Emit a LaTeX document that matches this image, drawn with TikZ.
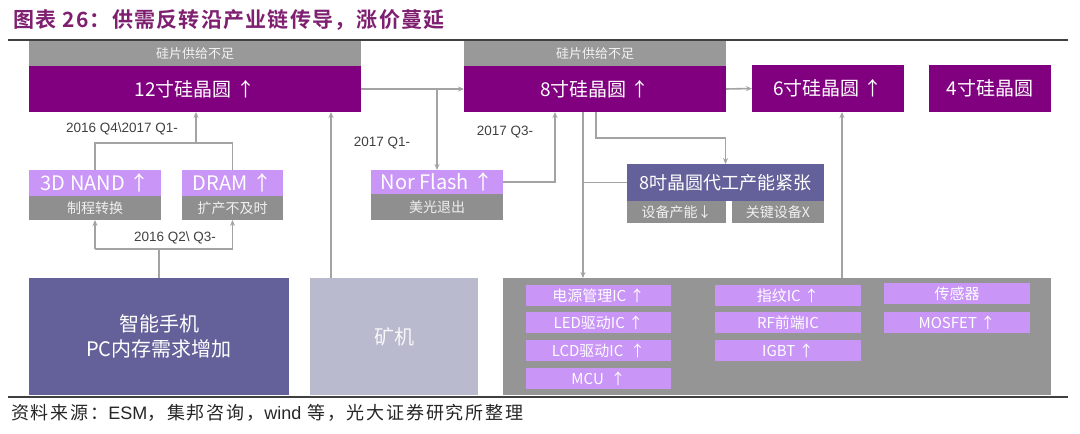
\documentclass[tikz,border=0pt]{standalone}
\usepackage{fontspec}
\setmainfont{Noto Sans CJK SC}
\newfontfamily\arialf{Liberation Sans}
\newfontfamily\titlef{Noto Sans CJK SC}[BoldFont={Noto Sans CJK SC Bold}, LetterSpace=6]
\newfontfamily\srcf{Noto Sans CJK SC}[LetterSpace=10]
\newfontfamily\srclat{Liberation Sans}
\usetikzlibrary{arrows.meta}
\definecolor{wpurple}{HTML}{800080}
\definecolor{hdrgray}{HTML}{999999}
\definecolor{lpurple}{HTML}{C995F7}
\definecolor{subgray}{HTML}{8F8F8F}
\definecolor{biggray}{HTML}{959595}
\definecolor{slate}{HTML}{64619A}
\definecolor{minec}{HTML}{BABACF}
\definecolor{linec}{HTML}{A3A3A3}
\definecolor{titlec}{HTML}{7E1F70}
\definecolor{labc}{HTML}{404040}
\tikzset{
  bx/.style={anchor=north west, inner sep=0pt, outer sep=0pt, text=white},
  wafer/.style={bx, fill=wpurple, font=\fontsize{19}{22}\selectfont},
  hdr/.style={bx, fill=hdrgray, text=white!90!gray, font=\fontsize{13}{15}\selectfont},
  mem/.style={bx, fill=lpurple, font=\fontsize{20}{22}\selectfont},
  sub/.style={bx, fill=subgray, text=white!88!gray, font=\fontsize{14}{16}\selectfont},
  chip/.style={bx, fill=lpurple, minimum height=21pt, font=\fontsize{15}{17}\selectfont},
  lab/.style={text=labc, font=\arialf\fontsize{13.5}{15}\selectfont, inner sep=0pt},
  conn/.style={draw=linec, line width=1.6pt},
  arr/.style={conn, -{Stealth[length=6pt,width=5pt]}},
}
\begin{document}
\begin{tikzpicture}[x=1pt,y=-1pt]
\useasboundingbox (0,0) rectangle (1080,434);
% title and rules
\node[anchor=west, inner sep=0pt, text=titlec, font=\titlef\bfseries\fontsize{21}{23}\selectfont] (title) at (13,20) {图表 26：供需反转沿产业链传导，涨价蔓延};
\draw[draw=labc, line width=1.5pt] (8,40) coordinate (tl) -- (1068,40) coordinate (tr);
\draw[draw=labc, line width=1.5pt] (8,397) coordinate (bl) -- (1068,397) coordinate (br);
\node[anchor=west, inner sep=0pt, text=black!85, font=\srcf\fontsize{18}{20}\selectfont] (src) at (11,413) {资料来源：{\srclat ESM}，集邦咨询，{\srclat wind} 等，光大证券研究所整理};
% wafers
\node[hdr, minimum width=332pt, minimum height=25pt] (h12) at (29,41) {硅片供给不足};
\node[wafer, minimum width=332pt, minimum height=46pt] (w12) at (29,66) {12寸硅晶圆 ↑};
\node[hdr, minimum width=262pt, minimum height=25pt] (h8) at (464,41) {硅片供给不足};
\node[wafer, minimum width=262pt, minimum height=46pt] (w8) at (464,66) {8寸硅晶圆 ↑};
\node[wafer, minimum width=152pt, minimum height=47pt] (w6) at (752,65) {6寸硅晶圆 ↑};
\node[wafer, minimum width=122pt, minimum height=47pt] (w4) at (929,65) {4寸硅晶圆};
% memory
\node[mem, minimum width=132pt, minimum height=26pt] (nand) at (29,170) {3D NAND ↑};
\node[sub, minimum width=132pt, minimum height=24pt] (nands) at (29,196) {制程转换};
\node[mem, minimum width=101pt, minimum height=26pt] (dram) at (182,170) {DRAM ↑};
\node[sub, minimum width=101pt, minimum height=24pt] (drams) at (182,196) {扩产不及时};
\node[mem, minimum width=132pt, minimum height=24pt] (nor) at (371,170) {Nor Flash ↑};
\node[sub, minimum width=132pt, minimum height=26pt] (nors) at (371,194) {美光退出};
% foundry
\node[bx, fill=slate, minimum width=197pt, minimum height=37pt, font=\fontsize{18}{20}\selectfont] (fab) at (627,164) {8吋晶圆代工产能紧张};
\node[sub, minimum width=99pt, minimum height=22pt] (fab1) at (627,201) {设备产能↓};
\node[sub, minimum width=92pt, minimum height=22pt] (fab2) at (732,201) {关键设备X};
% demand
\node[bx, fill=slate, minimum width=260pt, minimum height=117pt, align=center, font=\fontsize{20}{25}\selectfont] (phone) at (29,278) {智能手机\\PC内存需求增加};
\node[bx, fill=minec, text=white!88!minec, minimum width=168pt, minimum height=117pt, font=\fontsize{20}{24}\selectfont] (mine) at (310,278) {矿机};
\node[bx, fill=biggray, minimum width=548pt, minimum height=117pt] (ics) at (503,278) {};
\node[chip, minimum width=145pt] (c11) at (526,285) {电源管理IC ↑};
\node[chip, minimum width=145pt] (c12) at (526,312) {LED驱动IC ↑};
\node[chip, minimum width=145pt] (c13) at (526,340) {LCD驱动IC \ ↑};
\node[chip, minimum width=145pt] (c14) at (526,368) {MCU \ ↑};
\node[chip, minimum width=146pt] (c21) at (715,285) {指纹IC ↑};
\node[chip, minimum width=146pt] (c22) at (715,312) {RF前端IC};
\node[chip, minimum width=146pt] (c23) at (715,340) {IGBT ↑};
\node[chip, minimum width=146pt] (c31) at (884,283) {传感器};
\node[chip, minimum width=146pt] (c32) at (884,312) {MOSFET ↑};
% labels
\node[lab] (l1) at (122,129) {2016 Q4\textbackslash 2017 Q1-};
\node[lab] (l2) at (175,238) {2016 Q2\textbackslash\ Q3-};
\node[lab] (l3) at (382,143) {2017 Q1-};
\node[lab] (l4) at (505,132) {2017 Q3-};
% connectors
\draw[arr] (w12.east) -- (w8.west);
\draw[arr] (w12.east -| nor.north) -- (nor.north);
\draw[arr] (w8.east) -- (w6.west);
\draw[arr] (nor.east) -- (555,182) coordinate (nq) -- (nq |- w8.south);
\draw[arr] (583,112) coordinate (w8a) -- (w8a |- ics.north);
\draw[conn] (fab.west) -- (fab.west -| w8a);
\draw[arr] (596,112) coordinate (w8b) -- (596,138) -- (fab.north |- 0,138) -- (fab.north);
\draw[arr] (842,278) coordinate (icsa) -- (icsa |- w6.south);
\draw[arr] (331,278) coordinate (minea) -- (minea |- w12.south);
\draw[conn] (nand.north) -- (95,143) coordinate (m1) -- (dram.north |- m1) -- (dram.north);
\draw[arr] (196,143) coordinate (m2) -- (m2 |- w12.south);
\draw[conn] (phone.north) -- (phone.north |- 0,249) coordinate (m3);
\draw[arr] (nands.south |- m3) -- (nands.south);
\draw[arr] (drams.south |- m3) -- (drams.south);
\draw[conn] (nands.south |- m3) -- (drams.south |- m3);
\end{tikzpicture}
\end{document}
